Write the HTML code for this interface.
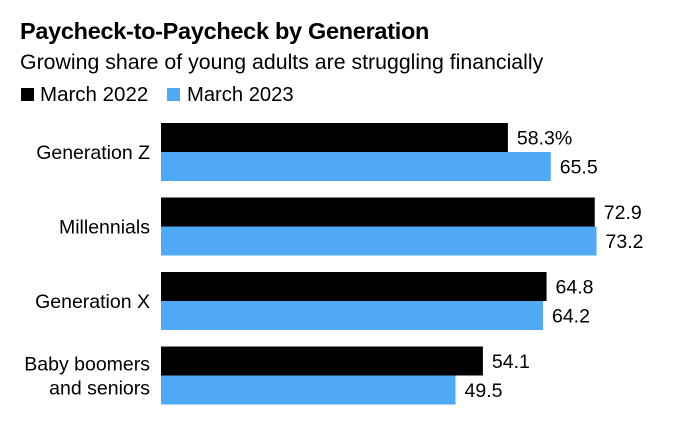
<!DOCTYPE html>
<html><head><meta charset="utf-8"><style>
body{margin:0;background:#fff;font-family:"Liberation Sans",sans-serif;}
svg text{font-family:"Liberation Sans",sans-serif;}
</style></head><body>
<svg width="679" height="437">
<text x="20" y="39" font-size="23.5" font-weight="bold" fill="#000" letter-spacing="-0.3">Paycheck-to-Paycheck by Generation</text>
<text x="20" y="69" font-size="21.3" fill="#000">Growing share of young adults are struggling financially</text>
<g>
<rect x="21" y="88" width="13" height="13" fill="#000"/>
<text x="40" y="101" font-size="20.5">March 2022</text>
<rect x="167" y="88" width="13" height="13" fill="#4fa9f4"/>
<text x="187" y="101" font-size="20.2">March 2023</text>
</g>
<g id="bars"></g>
</svg>
<script>
const categories=[["Generation Z"],["Millennials"],["Generation X"],["Baby boomers","and seniors"]];
const values2022=[58.3,72.9,64.8,54.1];
const values2023=[65.5,73.2,64.2,49.5];
const labels2022=["58.3%","72.9","64.8","54.1"];
const labels2023=["65.5","73.2","64.2","49.5"];
const ns="http://www.w3.org/2000/svg";
const g=document.getElementById('bars');
const x0=161,scale=5.95,top0=123,groupStep=74.5,barH=29;
const xs=v=>x0+v*scale;
function mk(t,a){const e=document.createElementNS(ns,t);for(const k in a)e.setAttribute(k,a[k]);g.appendChild(e);return e;}
categories.forEach((c,i)=>{
 const y=top0+i*groupStep;
 const r1=mk('rect',{x:x0,y:y,width:xs(values2022[i])-x0,height:barH,fill:'#000'});
 
 
 const r2=mk('rect',{x:x0,y:y+barH,width:xs(values2023[i])-x0,height:barH,fill:'#4fa9f4'});
 
 
 const t1=mk('text',{x:xs(values2022[i])+9,y:y+barH/2+7,'font-size':19.5});
 t1.textContent=labels2022[i];
 
 
 const t2=mk('text',{x:xs(values2023[i])+9,y:y+barH*1.5+7,'font-size':19.5});
 t2.textContent=labels2023[i];
 
 
 const n=c.length;
 c.forEach((line,j)=>{
  const t=mk('text',{x:150,y:y+barH+7+(j-(n-1)/2)*24,'font-size':19.5,'text-anchor':'end'});
  t.textContent=line;
  
  
 });
});
</script>
</body></html>
